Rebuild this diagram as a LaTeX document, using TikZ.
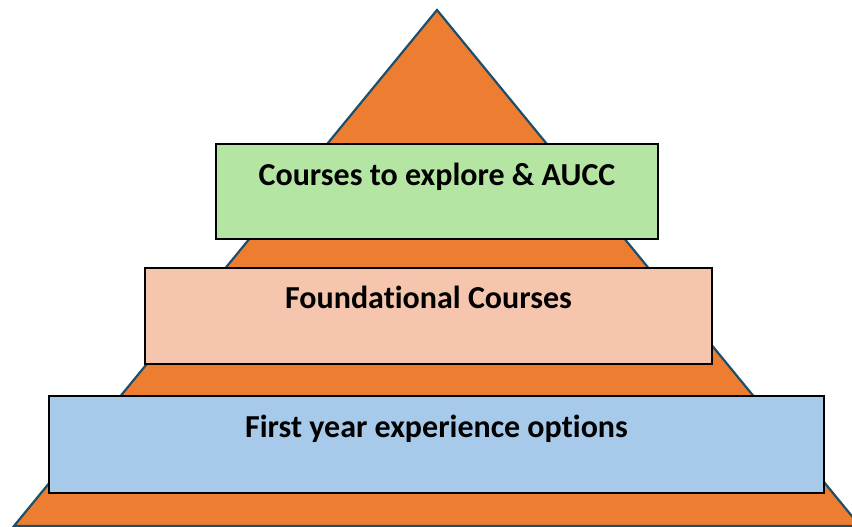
\documentclass[tikz,border=0pt]{standalone}
\usepackage{fontspec}
\setmainfont{Carlito}[Ligatures=NoCommon]
\definecolor{pyrorange}{HTML}{ED7D31}
\definecolor{pyredge}{HTML}{1B4F6B}
\definecolor{tiergreen}{HTML}{B5E5A3}
\definecolor{tierpeach}{HTML}{F5C6AD}
\definecolor{tierblue}{HTML}{A7CAEB}
\tikzset{
  tier/.style={draw=black,line width=1.6pt,inner sep=0pt},
  tierlabel/.style={anchor=base,font=\fontsize{32}{36}\selectfont\bfseries,inner sep=0pt}
}
\begin{document}
\begin{tikzpicture}[x=1pt,y=-1pt]

\useasboundingbox (0,0) rectangle (852,527);
\clip (0,0) rectangle (852,527);

\filldraw[fill=pyrorange,draw=pyredge,line width=2.2pt,line join=miter] (437,10) -- (860,526) -- (14,526) -- cycle; % Pyramid

% Top tier
\node[tier,fill=tiergreen,minimum width=442pt,minimum height=95pt] (explore) at (437,191.5) {};
\node[tierlabel] (exploretext) at (437,185) {Courses to explore \& AUCC};

% Middle tier
\node[tier,fill=tierpeach,minimum width=567pt,minimum height=96pt] (found) at (428.5,316) {};
\node[tierlabel] (foundtext) at (428.5,308) {Foundational Courses};

% Bottom tier
\node[tier,fill=tierblue,minimum width=775pt,minimum height=97pt] (firstyear) at (436.5,444.5) {};
\node[tierlabel] (firstyeartext) at (436.5,437) {First year experience options};

\end{tikzpicture}
\end{document}
